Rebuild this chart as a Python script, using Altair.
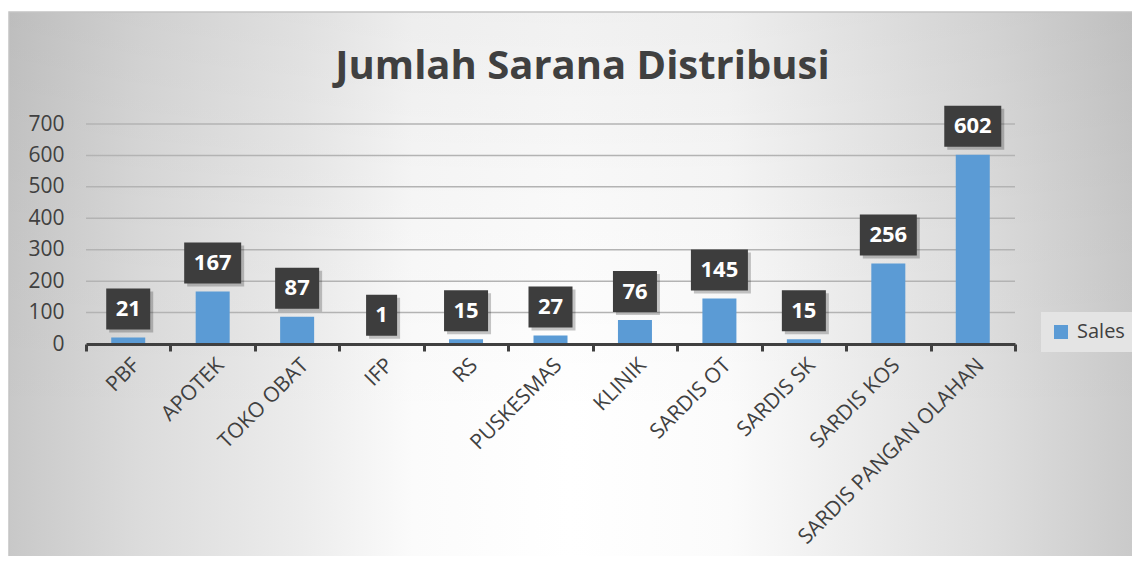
import altair as alt
import pandas as pd

# ---- data ----
categories = ["PBF", "APOTEK", "TOKO OBAT", "IFP", "RS", "PUSKESMAS", "KLINIK",
              "SARDIS OT", "SARDIS SK", "SARDIS KOS", "SARDIS PANGAN OLAHAN"]
values = [21, 167, 87, 1, 15, 27, 76, 145, 15, 256, 602]
series_name = "Sales"
y_ticks = [0, 100, 200, 300, 400, 500, 600, 700]
chart_title = "Jumlah Sarana Distribusi"

df = pd.DataFrame({"Category": categories, "Sales": values, "series": series_name})
grid_df = pd.DataFrame({"Sales": y_ticks[1:]})

# ---- layout ----
W, H = 929, 220
PAD = {"left": 78, "top": 116, "right": 117, "bottom": 212}
FONT = "Open Sans"
TXT = "#404040"

xscale = alt.Scale(domain=categories, paddingInner=0, paddingOuter=0)
yscale = alt.Scale(domain=[y_ticks[0], y_ticks[-1]], nice=False)

x_axis = alt.Axis(title=None, labelAngle=-45, labelFontSize=21, labelFont=FONT,
                  labelColor=TXT, domainColor=TXT, domainWidth=3, tickColor=TXT,
                  tickWidth=3, tickSize=7, tickBand="extent", labelPadding=3,
                  labelLimit=500, grid=False, zindex=1)
y_axis = alt.Axis(title=None, values=y_ticks, grid=False, domain=False, ticks=False,
                  labelFontSize=21, labelFont=FONT, labelColor=TXT,
                  labelPadding=22, zindex=1)

X = alt.X("Category:N", scale=xscale, sort=categories, axis=x_axis)
Y = alt.Y("Sales:Q", scale=yscale, axis=y_axis)

BG_X = alt.value(-PAD["left"] + 1)
BG_X2 = alt.value(W + PAD["right"])
BG_Y = alt.value(-PAD["top"] + 4)
BG_Y2 = alt.value(H + PAD["bottom"])

# background panel: horizontal light-centre gradient
bg = alt.Chart(alt.Data(values=[{}])).mark_rect(
    fill={
        "gradient": "linear",
        "x1": 0, "y1": 0, "x2": 1, "y2": 0,
        "stops": [
            {"offset": 0.0, "color": "#c8c8c8"},
            {"offset": 0.12, "color": "#dcdcdc"},
            {"offset": 0.26, "color": "#ececec"},
            {"offset": 0.36, "color": "#fbfbfb"},
            {"offset": 0.50, "color": "#ffffff"},
            {"offset": 0.64, "color": "#fbfbfb"},
            {"offset": 0.75, "color": "#ededed"},
            {"offset": 0.88, "color": "#dddddd"},
            {"offset": 1.0, "color": "#cacaca"},
        ],
    },
).encode(x=BG_X, x2=BG_X2, y=BG_Y, y2=BG_Y2)

# slight darkening towards the top
shade = alt.Chart(alt.Data(values=[{}])).mark_rect(
    fill={
        "gradient": "linear",
        "x1": 0, "y1": 0, "x2": 0, "y2": 1,
        "stops": [
            {"offset": 0.0, "color": "rgba(0,0,0,0.055)"},
            {"offset": 0.4, "color": "rgba(0,0,0,0.02)"},
            {"offset": 0.75, "color": "rgba(0,0,0,0)"},
            {"offset": 1.0, "color": "rgba(0,0,0,0)"},
        ],
    },
).encode(x=BG_X, x2=BG_X2, y=BG_Y, y2=BG_Y2)

frame = alt.Chart(alt.Data(values=[{}])).mark_rect(
    fill="transparent", stroke="#c4c4c4", strokeWidth=1.5
).encode(
    x=BG_X,
    x2=alt.value(W + PAD["right"] + 4),
    y=BG_Y,
    y2=alt.value(H + PAD["bottom"] + 4),
)

grid = alt.Chart(grid_df).mark_rule(color="#b3b3b3", strokeWidth=1.5).encode(y=Y)

bars = alt.Chart(df).mark_bar(width=34).encode(
    x=X,
    y=Y,
    color=alt.Color("series:N", scale=alt.Scale(domain=[series_name], range=["#5B9BD5"]),
                    legend=alt.Legend(title=None, orient="none", legendX=955, legendY=188,
                                      fillColor="#e4e4e4", padding=10, symbolType="square",
                                      symbolSize=196, symbolStrokeWidth=0, labelFont=FONT,
                                      labelFontSize=20, labelColor=TXT, labelOffset=6)),
)

paths = [
    "M-0.544,-0.719H0.544V0.719H-0.544Z",
    "M-0.772,-0.719H0.772V0.719H-0.772Z",
    "M-1,-0.719H1V0.719H-1Z",
]

base_lbl = alt.Chart(df).transform_calculate(
    digits="length(toString(datum.Sales))"
)

shape_enc = alt.Shape("digits:O", scale=alt.Scale(domain=[1, 2, 3], range=paths), legend=None)

shadow = base_lbl.mark_point(filled=True, color="#000000", opacity=0.22, size=3249,
                             strokeWidth=0, xOffset=3, yOffset=-25.5).encode(
    x=X, y=Y, shape=shape_enc,
)

boxes = base_lbl.mark_point(filled=True, color="#3d3d3d", opacity=1, size=3249,
                            strokeWidth=0, yOffset=-28.5).encode(
    x=X, y=Y, shape=shape_enc,
)

texts = alt.Chart(df).mark_text(font=FONT, fontSize=22, fontWeight="bold", color="#ffffff",
                                baseline="middle", yOffset=-28.5).encode(
    x=X, y=Y, text=alt.Text("Sales:Q"),
)

chart = alt.layer(bg, shade, frame, grid, bars, shadow, boxes, texts).properties(
    width=W, height=H,
    padding=PAD,
    autosize=alt.AutoSizeParams(type="none"),
    title=alt.TitleParams(chart_title, font=FONT, fontSize=40, fontWeight="bold", color=TXT,
                          anchor="middle", frame="group", dx=32, offset=-107.5,
                          baseline="alphabetic"),
).configure_view(strokeWidth=0).configure(background="#ffffff")

chart.save("out.html", embed_options={"renderer": "svg", "actions": False})
